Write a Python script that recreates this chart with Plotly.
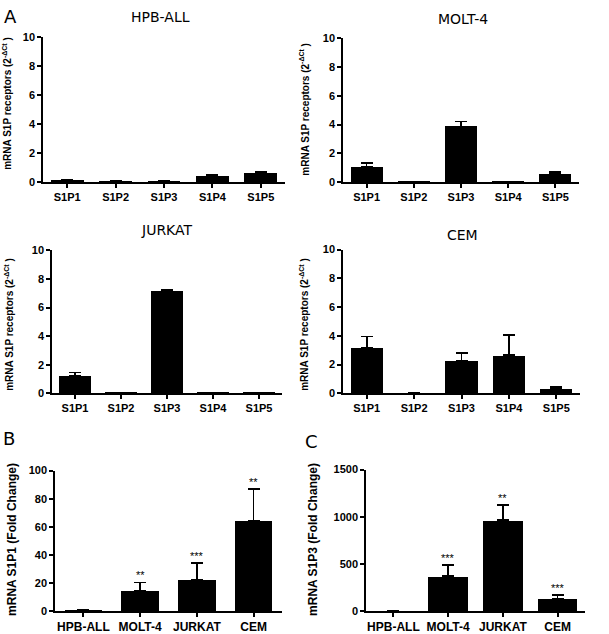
import plotly.graph_objects as go

W, H = 609, 634

receptors = ["S1P1", "S1P2", "S1P3", "S1P4", "S1P5"]
hpb_vals = [0.12, 0.05, 0.05, 0.40, 0.60]
hpb_err = [0.03, 0.01, 0.01, 0.10, 0.10]
molt_vals = [1.05, 0.03, 3.85, 0.03, 0.55]
molt_err = [0.28, 0.0, 0.35, 0.0, 0.15]
jurkat_vals = [1.20, 0.04, 7.10, 0.02, 0.02]
jurkat_err = [0.25, 0.0, 0.12, 0.0, 0.0]
cem_vals = [3.15, 0.05, 2.25, 2.65, 0.32]
cem_err = [0.80, 0.0, 0.55, 1.40, 0.10]

lines = ["HPB-ALL", "MOLT-4", "JURKAT", "CEM"]
s1p1_fold = [1, 14.5, 22.5, 64.5]
s1p1_err = [0, 6, 12, 22.5]
s1p1_sig = ["", "**", "***", "**"]
s1p3_fold = [1, 372, 965, 136]
s1p3_err = [0, 115, 158, 36]
s1p3_sig = ["", "***", "**", "***"]

def px_x(a, b):
    return [a / W, b / W]

def px_y(top, bottom):
    return [1 - bottom / H, 1 - top / H]

panels = [
    dict(cats=receptors, vals=hpb_vals, err=hpb_err, x=px_x(43, 285), y=px_y(32, 180), rng=[0, 10], dt=2, bw=0.68),
    dict(cats=receptors, vals=molt_vals, err=molt_err, x=px_x(343, 579), y=px_y(33, 180), rng=[0, 10], dt=2, bw=0.68),
    dict(cats=receptors, vals=jurkat_vals, err=jurkat_err, x=px_x(52, 282), y=px_y(250, 396), rng=[0, 10], dt=2, bw=0.68),
    dict(cats=receptors, vals=cem_vals, err=cem_err, x=px_x(343, 580), y=px_y(249, 396), rng=[0, 10], dt=2, bw=0.68),
    dict(cats=lines, vals=s1p1_fold, err=s1p1_err, x=px_x(55, 282), y=px_y(475, 619), rng=[0, 100], dt=20, bw=0.66, sig=s1p1_sig),
    dict(cats=lines, vals=s1p3_fold, err=s1p3_err, x=px_x(366, 585), y=px_y(474, 619), rng=[0, 1500], dt=500, bw=0.72, sig=s1p3_sig),
]

fig = go.Figure()
layout = dict(width=W, height=H, margin=dict(l=0, r=0, t=0, b=0),
              plot_bgcolor="white", paper_bgcolor="white", showlegend=False,
              bargap=0)
annotations = []
BOLD = "Liberation Sans"

for i, p in enumerate(panels):
    n = i + 1
    xa = "x" if n == 1 else f"x{n}"
    ya = "y" if n == 1 else f"y{n}"
    fig.add_trace(go.Bar(
        x=p["cats"], y=p["vals"], xaxis=xa, yaxis=ya,
        marker=dict(color="black", line=dict(width=0)), width=p["bw"],
        error_y=dict(type="data", symmetric=False, array=p["err"],
                     arrayminus=[0] * len(p["err"]), color="black",
                     thickness=1.6, width=6),
    ))
    common = dict(showline=True, linecolor="black", linewidth=1.5, ticks="outside",
                  tickcolor="black", tickwidth=1.5, ticklen=4, showgrid=False,
                  zeroline=False)
    layout["xaxis" if n == 1 else f"xaxis{n}"] = dict(
        domain=p["x"], anchor=ya, range=[-0.5, len(p["cats"]) - 0.5],
        tickfont=dict(family=BOLD, size=12 if n > 4 else 11, color="black", weight="bold"),
        **common)
    layout["yaxis" if n == 1 else f"yaxis{n}"] = dict(
        domain=p["y"], anchor=xa, range=p["rng"], dtick=p["dt"],
        tickfont=dict(family=BOLD, size=11, color="black", weight="bold"), **common)
    if "sig" in p:
        for c, v, e, s in zip(p["cats"], p["vals"], p["err"], p["sig"]):
            if s:
                annotations.append(dict(x=c, y=v + e, xref=xa, yref=ya, text=s,
                                        showarrow=False, yanchor="bottom", yshift=-1,
                                        font=dict(family=BOLD, size=11, color="black")))

titles = [("HPB-ALL", 160, 11), ("MOLT-4", 463, 13), ("JURKAT", 167, 229), ("CEM", 462, 234)]
for t, x, y in titles:
    annotations.append(dict(text=t, x=x / W, y=1 - y / H, xref="paper", yref="paper",
                            showarrow=False, xanchor="center", yanchor="middle",
                            font=dict(family="DejaVu Sans", size=14, color="black")))

letters = [("A", 10, 11), ("B", 9, 442), ("C", 311, 445)]
for t, x, y in letters:
    annotations.append(dict(text=t, x=x / W, y=1 - y / H, xref="paper", yref="paper",
                            showarrow=False, xanchor="center", yanchor="middle",
                            font=dict(family="DejaVu Sans", size=18, color="black")))

rec_label = "mRNA S1P receptors (2<sup>-ΔCt</sup> )"
ylabels = [(rec_label, 7, 100, 10), (rec_label, 304, 106, 10), (rec_label, 9, 326, 10),
           (rec_label, 304, 326, 10), ("mRNA S1P1 (Fold Change)", 12, 546, 12),
           ("mRNA S1P3 (Fold Change)", 313, 546, 12)]
for t, x, y, s in ylabels:
    annotations.append(dict(text=t, x=x / W, y=1 - y / H, xref="paper", yref="paper",
                            showarrow=False, xanchor="center", yanchor="middle", textangle=-90,
                            font=dict(family=BOLD, size=s, color="black", weight="bold")))

layout["annotations"] = annotations
fig.update_layout(**layout)
fig.write_html("out.html")
